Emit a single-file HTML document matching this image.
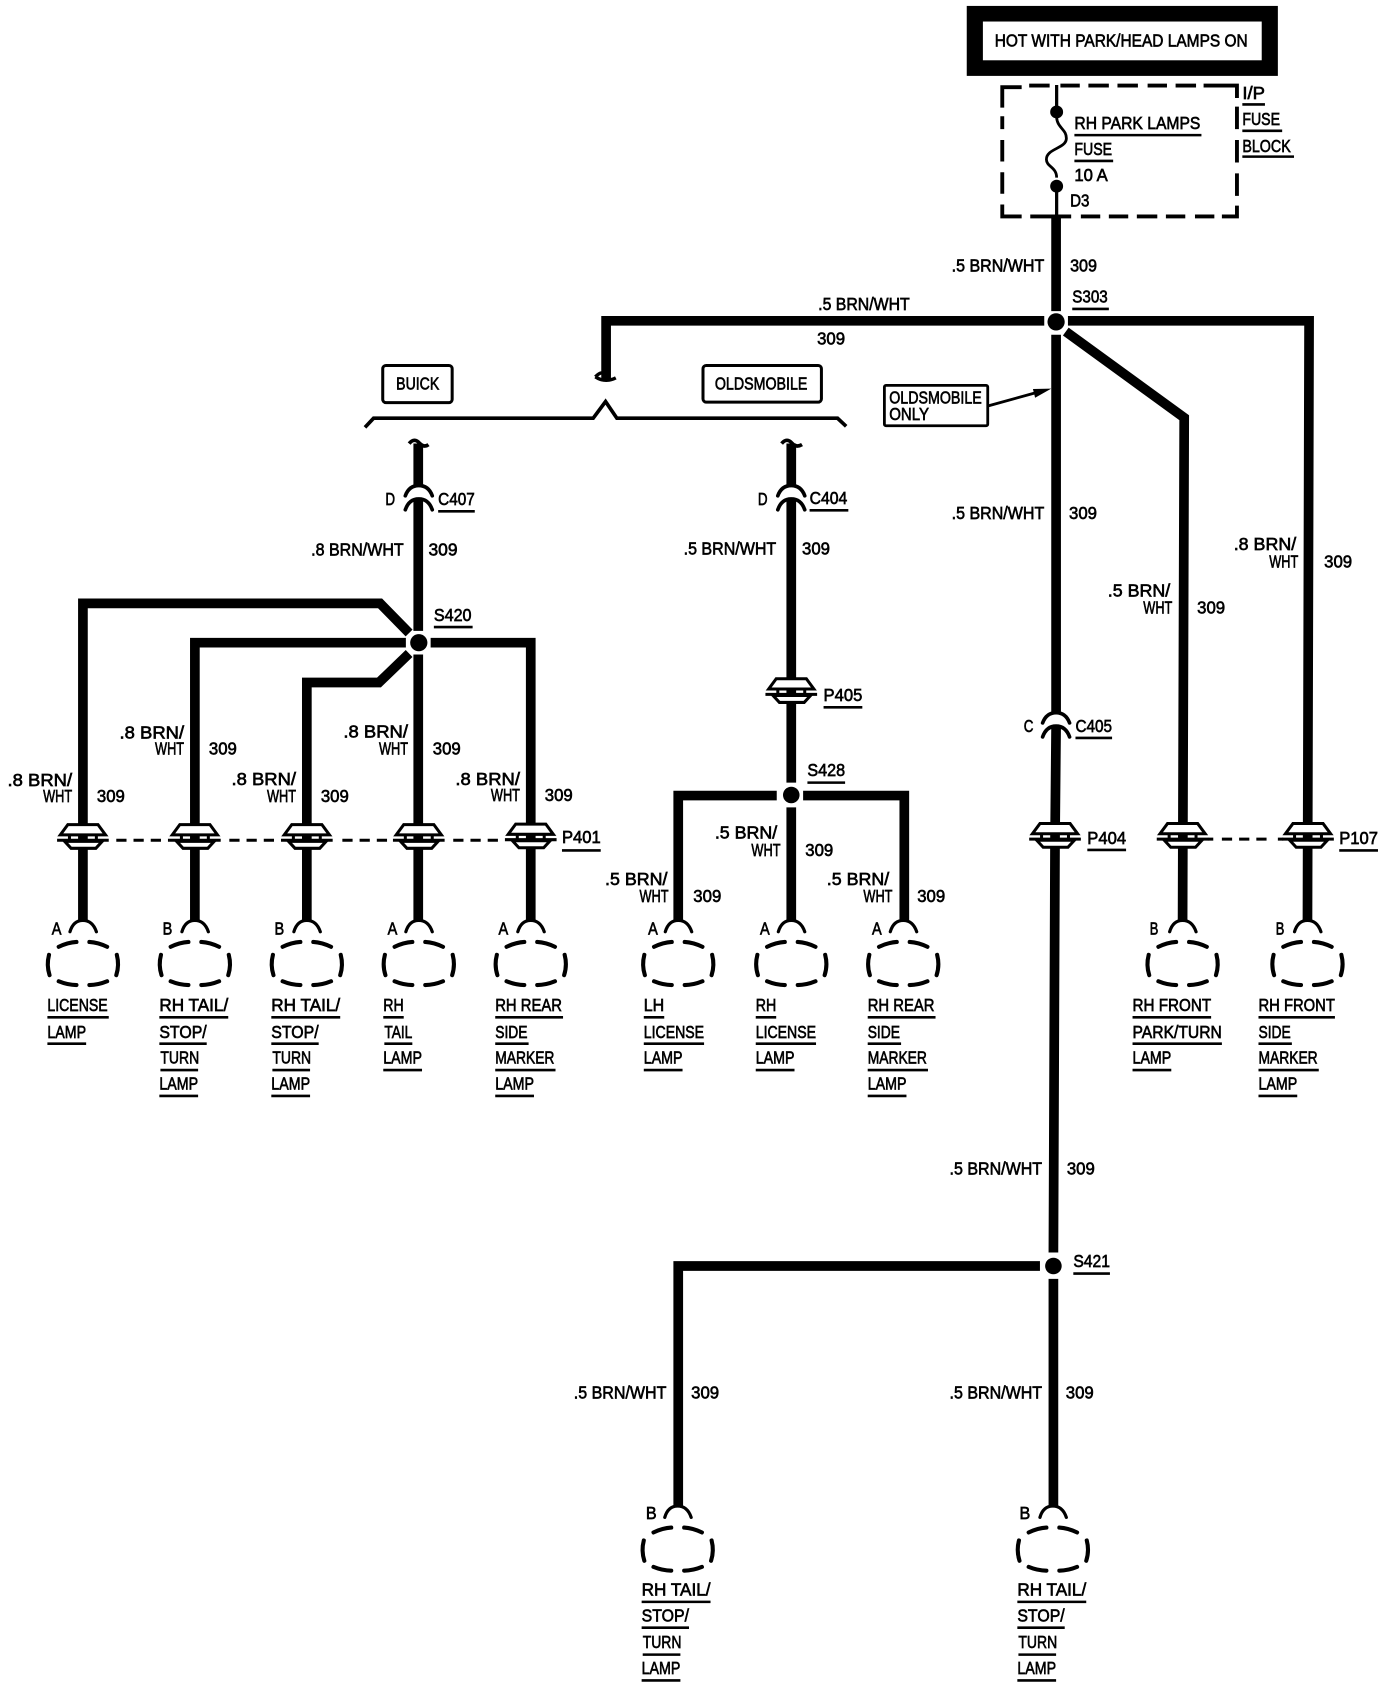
<!DOCTYPE html>
<html>
<head>
<meta charset="utf-8">
<style>
html,body{margin:0;padding:0;background:#fff}
svg{display:block}
text{font-family:"Liberation Sans",Arial,sans-serif;font-size:16.5px;fill:#000;stroke:#000;stroke-width:.6}
.w{fill:none;stroke:#000;stroke-width:9;stroke-linejoin:miter}
.u{fill:none;stroke:#000;stroke-width:2.4}
.d{fill:none;stroke:#000;stroke-width:3.6}
.ds{fill:none;stroke:#000;stroke-width:2.8;stroke-dasharray:9.5 6.5}
</style>
</head>
<body>
<svg width="1392" height="1688" viewBox="0 0 1293 1568" xmlns="http://www.w3.org/2000/svg">
<defs>
<g id="lamp" fill="none" stroke="#000" stroke-linecap="round">
<path d="M-12 -29.500 Q-9 -40 0 -40 Q9 -40 12.500 -29.500" stroke-width="3"/>
<path d="M-22.500 -15.500 Q-14 -19.500 -6 -20 M6 -20 Q14 -19.500 22.500 -15.500 M-22.500 16.500 Q-14 20 -6 20 M6 20 Q14 20 22.500 16.500 M-31.500 -8 Q-34 1.500 -31 10.800 M31.500 -8 Q34 1.500 31 10.800" stroke-width="3.800"/>
</g>
<g id="pass" stroke="#000">
<path d="M-14 -14.500 H14 L21 -5 H-21 Z" fill="#fff" stroke-width="2.800"/>
<path d="M-17 1 L-11 7.500 H12 L18 1 Z" fill="#fff" stroke-width="2.800"/>
<path d="M-12.500 -5 V0 M12.500 -5 V0" fill="none" stroke-width="2.800"/>
<path d="M-24 0 H24" fill="none" stroke-width="2.800"/>
</g>
<g id="conn" fill="none" stroke="#000" stroke-width="3.400" stroke-linecap="round">
<path d="M-12.500 9.500 Q-9 0 0 0 Q9 0 12.500 9.500"/>
<path d="M-12.500 22.500 Q-9 12.500 0 12.500 Q9 12.500 12.500 22.500"/>
</g>
</defs>

<!-- header box -->
<rect x="898" y="5.500" width="289" height="65" fill="#000"/>
<rect x="913" y="20" width="259" height="36" fill="#fff"/>
<text x="924" y="43" textLength="235" lengthAdjust="spacingAndGlyphs">HOT WITH PARK/HEAD LAMPS ON</text>

<!-- fuse block dashed box -->
<path class="d" d="M931 100 V81 H949 M956 79.500 H975 M985 79.500 H1003 M1011 79.500 H1030 M1038 79.500 H1057 M1066 79.500 H1084 M1092 79.500 H1111 M1118 79.500 H1149 V91 M1149 99 V120 M1149 130 V151 M1149 161 V182 M1149 191 V201 H1135 M1128 201 H1110 M1101 201 H1083 M1075 201 H1056 M1048 201 H1030 M1022 201 H1004 M995 201 H957 M949 201 H931 V190 M931 180 V160 M931 150 V130 M931 120 V108"/>
<path d="M981.500 79 V104 M981.500 173 V201" stroke="#000" stroke-width="3" fill="none"/>
<path d="M981.500 109 C982 119 991 120 990.500 129 C990 138 972 138 972 148 C972 155 981.500 155 981.500 165" stroke="#000" stroke-width="2.600" fill="none"/>
<circle cx="981.500" cy="104" r="6"/>
<circle cx="981.500" cy="173" r="6"/>
<text x="998" y="120" textLength="117" lengthAdjust="spacingAndGlyphs">RH PARK LAMPS</text>
<text x="998" y="144" textLength="35" lengthAdjust="spacingAndGlyphs">FUSE</text>
<text x="998" y="168" textLength="31" lengthAdjust="spacingAndGlyphs">10 A</text>
<text x="994" y="192" textLength="18" lengthAdjust="spacingAndGlyphs">D3</text>
<text x="1154" y="92" textLength="21" lengthAdjust="spacingAndGlyphs">I/P</text>
<text x="1154" y="116" textLength="35" lengthAdjust="spacingAndGlyphs">FUSE</text>
<text x="1154" y="141" textLength="45" lengthAdjust="spacingAndGlyphs">BLOCK</text>

<!-- wires -->
<path class="w" d="M981 201 V289"/>
<path class="w" d="M970 298 H563 V352"/>
<path class="w" d="M992 298 H1216 L1214.500 855"/>
<path class="w" d="M990 308 L1100 388 L1098.500 855"/>
<path class="w" d="M981 311 V662"/>
<path class="w" d="M981 675 L980 780 L978.500 1163.500"/>
<path class="w" d="M978.500 1188 V1400"/>
<path class="w" d="M966 1176 H630 V1400"/>
<!-- buick -->
<path class="w" d="M388.500 412 V451"/>
<path class="w" d="M388.500 464 V586"/>
<path class="w" d="M388.500 608 V855"/>
<path class="w" d="M380 588 L353 560.500 H77 V855"/>
<path class="w" d="M377 597 H181 V855"/>
<path class="w" d="M380 607 L352 634 H285 V855"/>
<path class="w" d="M400 597 H493 V855"/>
<!-- olds -->
<path class="w" d="M735 412 V451"/>
<path class="w" d="M735 464 V727"/>
<path class="w" d="M735 750 V855"/>
<path class="w" d="M721.500 739 H630 V855"/>
<path class="w" d="M746 739 H840 V855"/>

<!-- curls -->
<path d="M553 350 Q562 356 572 351 M553 350 Q558 345 560 347" fill="none" stroke="#000" stroke-width="3.200"/>
<path d="M380 412 Q385 406 390 412 Q394 416 398 413" fill="none" stroke="#000" stroke-width="3.400"/>
<path d="M726 412 Q731 406 736 412 Q740 416 745 413" fill="none" stroke="#000" stroke-width="3.400"/>

<!-- bracket -->
<path d="M339 397 L347 388.500 H551 L562.500 373 L573 388.500 H778 L786 396" fill="none" stroke="#000" stroke-width="3.400"/>
<rect x="355.500" y="339.500" width="64.500" height="34.500" rx="3" fill="#fff" stroke="#000" stroke-width="2.800"/>
<rect x="653" y="339.500" width="110" height="34" rx="3" fill="#fff" stroke="#000" stroke-width="2.800"/>
<text x="368" y="362" textLength="40" lengthAdjust="spacingAndGlyphs">BUICK</text>
<text x="664" y="362" textLength="86" lengthAdjust="spacingAndGlyphs">OLDSMOBILE</text>

<!-- oldsmobile only -->
<rect x="821.500" y="358" width="96" height="37.500" rx="1.500" fill="#fff" stroke="#000" stroke-width="2.600"/>
<text x="826" y="375" textLength="86" lengthAdjust="spacingAndGlyphs">OLDSMOBILE</text>
<text x="826" y="390" textLength="37" lengthAdjust="spacingAndGlyphs">ONLY</text>
<path d="M918 377 L965 364" stroke="#000" stroke-width="2.600" fill="none"/>
<path d="M976.500 361 L959.500 361.300 L961.500 369.500 Z" fill="#000"/>

<!-- splices -->
<circle cx="981" cy="299" r="8"/>
<circle cx="389" cy="597" r="8"/>
<circle cx="735" cy="738.500" r="7.700"/>
<circle cx="978.500" cy="1176" r="7.700"/>

<!-- connector C -->
<use href="#conn" x="389" y="451"/>
<use href="#conn" x="735" y="451"/>
<use href="#conn" x="981" y="662"/>

<!-- pass through -->
<path class="ds" d="M108 780.500 H157 M213 780.500 H261 M318 780.500 H365 M421 780.500 H468"/>
<path class="ds" d="M1135 779.500 H1181"/>
<use href="#pass" x="77" y="780.500"/>
<use href="#pass" x="181" y="780.500"/>
<use href="#pass" x="285" y="780.500"/>
<use href="#pass" x="389" y="780.500"/>
<use href="#pass" x="493" y="780"/>
<use href="#pass" x="735" y="645"/>
<use href="#pass" x="980" y="779.500"/>
<use href="#pass" x="1098.500" y="779.500"/>
<use href="#pass" x="1215" y="779.500"/>
<path d="M1122 779.500 H1127 M1187 779.500 H1192" stroke="#000" stroke-width="2.800"/>

<!-- lamps -->
<use href="#lamp" x="77" y="895"/>
<use href="#lamp" x="181" y="895"/>
<use href="#lamp" x="285" y="895"/>
<use href="#lamp" x="389" y="895"/>
<use href="#lamp" x="493" y="895"/>
<use href="#lamp" x="630" y="895"/>
<use href="#lamp" x="735" y="895"/>
<use href="#lamp" x="839" y="895"/>
<use href="#lamp" x="1098.500" y="895"/>
<use href="#lamp" x="1214.500" y="895"/>
<use href="#lamp" x="629.500" y="1439"/>
<use href="#lamp" x="978" y="1439"/>

<!-- underlines -->
<path class="u" d="M1154 97h21 M1154 121.500h37 M1154 145.500h48 M998 125.500h118 M998 149.500h36
M996 287h34 M407 475h34 M403 582.500h36 M752 474h36 M765 657h36 M750 727h35 M999 685.500h34
M522 790h36 M1010 789.500h36 M1244 790h36 M997 1183h34
M44 945h57 M44 969.500h36
M148 945h64 M148 969.500h44 M149 994h35 M148 1018h36
M252 945h64 M252 969.500h44 M253 994h35 M252 1018h36
M356 945h19 M357 969.500h26 M356 994h36
M460 945h63 M460 969.500h31 M460 994h56 M460 1018h36
M598 945h19 M598 969.500h56 M598 994h36
M702 945h19 M702 969.500h56 M702 994h36
M806 945h63 M806 969.500h31 M806 994h56 M806 1018h36
M1052 945h73 M1052 969.500h83 M1052 994h36
M1169 945h71 M1169 969.500h31 M1169 994h56 M1169 1018h36
M596 1488h64 M596 1512h44 M597 1537h35 M596 1561h36
M945 1488h64 M945 1512h44 M946 1537h35 M945 1561h36"/>

<!-- top wire labels -->
<text x="884" y="252" textLength="86" lengthAdjust="spacingAndGlyphs">.5 BRN/WHT</text>
<text x="994" y="252" textLength="25" lengthAdjust="spacingAndGlyphs">309</text>
<text x="996" y="281" textLength="33" lengthAdjust="spacingAndGlyphs">S303</text>
<text x="760" y="288" textLength="85" lengthAdjust="spacingAndGlyphs">.5 BRN/WHT</text>
<text x="759" y="320" textLength="26" lengthAdjust="spacingAndGlyphs">309</text>

<!-- Buick labels -->
<text x="358" y="469" textLength="9" lengthAdjust="spacingAndGlyphs">D</text>
<text x="407" y="469" textLength="34" lengthAdjust="spacingAndGlyphs">C407</text>
<text x="289" y="516" textLength="86" lengthAdjust="spacingAndGlyphs">.8 BRN/WHT</text>
<text x="398" y="516" textLength="27" lengthAdjust="spacingAndGlyphs">309</text>
<text x="403" y="577" textLength="35" lengthAdjust="spacingAndGlyphs">S420</text>

<text x="7" y="730" textLength="60" lengthAdjust="spacingAndGlyphs">.8 BRN/</text>
<text x="40" y="745" textLength="27" lengthAdjust="spacingAndGlyphs">WHT</text>
<text x="90" y="745" textLength="26" lengthAdjust="spacingAndGlyphs">309</text>
<text x="111" y="686" textLength="60" lengthAdjust="spacingAndGlyphs">.8 BRN/</text>
<text x="144" y="701" textLength="27" lengthAdjust="spacingAndGlyphs">WHT</text>
<text x="194" y="701" textLength="26" lengthAdjust="spacingAndGlyphs">309</text>
<text x="215" y="729" textLength="60" lengthAdjust="spacingAndGlyphs">.8 BRN/</text>
<text x="248" y="745" textLength="27" lengthAdjust="spacingAndGlyphs">WHT</text>
<text x="298" y="745" textLength="26" lengthAdjust="spacingAndGlyphs">309</text>
<text x="319" y="685" textLength="60" lengthAdjust="spacingAndGlyphs">.8 BRN/</text>
<text x="352" y="701" textLength="27" lengthAdjust="spacingAndGlyphs">WHT</text>
<text x="402" y="701" textLength="26" lengthAdjust="spacingAndGlyphs">309</text>
<text x="423" y="729" textLength="60" lengthAdjust="spacingAndGlyphs">.8 BRN/</text>
<text x="456" y="744" textLength="27" lengthAdjust="spacingAndGlyphs">WHT</text>
<text x="506" y="744" textLength="26" lengthAdjust="spacingAndGlyphs">309</text>
<text x="522" y="783" textLength="36" lengthAdjust="spacingAndGlyphs">P401</text>

<text x="48" y="868" textLength="9" lengthAdjust="spacingAndGlyphs">A</text>
<text x="151" y="868" textLength="9" lengthAdjust="spacingAndGlyphs">B</text>
<text x="255" y="868" textLength="9" lengthAdjust="spacingAndGlyphs">B</text>
<text x="360" y="868" textLength="9" lengthAdjust="spacingAndGlyphs">A</text>
<text x="463" y="868" textLength="9" lengthAdjust="spacingAndGlyphs">A</text>

<text x="44" y="939" textLength="56" lengthAdjust="spacingAndGlyphs">LICENSE</text>
<text x="44" y="964" textLength="36" lengthAdjust="spacingAndGlyphs">LAMP</text>

<text x="148" y="939" textLength="64" lengthAdjust="spacingAndGlyphs">RH TAIL/</text>
<text x="148" y="964" textLength="44" lengthAdjust="spacingAndGlyphs">STOP/</text>
<text x="149" y="988" textLength="36" lengthAdjust="spacingAndGlyphs">TURN</text>
<text x="148" y="1012" textLength="36" lengthAdjust="spacingAndGlyphs">LAMP</text>

<text x="252" y="939" textLength="64" lengthAdjust="spacingAndGlyphs">RH TAIL/</text>
<text x="252" y="964" textLength="44" lengthAdjust="spacingAndGlyphs">STOP/</text>
<text x="253" y="988" textLength="36" lengthAdjust="spacingAndGlyphs">TURN</text>
<text x="252" y="1012" textLength="36" lengthAdjust="spacingAndGlyphs">LAMP</text>

<text x="356" y="939" textLength="19" lengthAdjust="spacingAndGlyphs">RH</text>
<text x="357" y="964" textLength="26" lengthAdjust="spacingAndGlyphs">TAIL</text>
<text x="356" y="988" textLength="36" lengthAdjust="spacingAndGlyphs">LAMP</text>

<text x="460" y="939" textLength="62" lengthAdjust="spacingAndGlyphs">RH REAR</text>
<text x="460" y="964" textLength="30" lengthAdjust="spacingAndGlyphs">SIDE</text>
<text x="460" y="988" textLength="55" lengthAdjust="spacingAndGlyphs">MARKER</text>
<text x="460" y="1012" textLength="36" lengthAdjust="spacingAndGlyphs">LAMP</text>

<!-- Olds labels -->
<text x="704" y="469" textLength="9" lengthAdjust="spacingAndGlyphs">D</text>
<text x="752" y="468" textLength="35" lengthAdjust="spacingAndGlyphs">C404</text>
<text x="635" y="515" textLength="86" lengthAdjust="spacingAndGlyphs">.5 BRN/WHT</text>
<text x="745" y="515" textLength="26" lengthAdjust="spacingAndGlyphs">309</text>
<text x="765" y="651" textLength="36" lengthAdjust="spacingAndGlyphs">P405</text>
<text x="750" y="721" textLength="35" lengthAdjust="spacingAndGlyphs">S428</text>

<text x="562" y="822" textLength="58" lengthAdjust="spacingAndGlyphs">.5 BRN/</text>
<text x="594" y="838" textLength="27" lengthAdjust="spacingAndGlyphs">WHT</text>
<text x="644" y="838" textLength="26" lengthAdjust="spacingAndGlyphs">309</text>
<text x="664" y="779" textLength="58" lengthAdjust="spacingAndGlyphs">.5 BRN/</text>
<text x="698" y="795" textLength="27" lengthAdjust="spacingAndGlyphs">WHT</text>
<text x="748" y="795" textLength="26" lengthAdjust="spacingAndGlyphs">309</text>
<text x="768" y="822" textLength="58" lengthAdjust="spacingAndGlyphs">.5 BRN/</text>
<text x="802" y="838" textLength="27" lengthAdjust="spacingAndGlyphs">WHT</text>
<text x="852" y="838" textLength="26" lengthAdjust="spacingAndGlyphs">309</text>

<text x="602" y="868" textLength="9" lengthAdjust="spacingAndGlyphs">A</text>
<text x="706" y="868" textLength="9" lengthAdjust="spacingAndGlyphs">A</text>
<text x="810" y="868" textLength="9" lengthAdjust="spacingAndGlyphs">A</text>

<text x="598" y="939" textLength="19" lengthAdjust="spacingAndGlyphs">LH</text>
<text x="598" y="964" textLength="56" lengthAdjust="spacingAndGlyphs">LICENSE</text>
<text x="598" y="988" textLength="36" lengthAdjust="spacingAndGlyphs">LAMP</text>
<text x="702" y="939" textLength="19" lengthAdjust="spacingAndGlyphs">RH</text>
<text x="702" y="964" textLength="56" lengthAdjust="spacingAndGlyphs">LICENSE</text>
<text x="702" y="988" textLength="36" lengthAdjust="spacingAndGlyphs">LAMP</text>
<text x="806" y="939" textLength="62" lengthAdjust="spacingAndGlyphs">RH REAR</text>
<text x="806" y="964" textLength="30" lengthAdjust="spacingAndGlyphs">SIDE</text>
<text x="806" y="988" textLength="55" lengthAdjust="spacingAndGlyphs">MARKER</text>
<text x="806" y="1012" textLength="36" lengthAdjust="spacingAndGlyphs">LAMP</text>

<!-- right labels -->
<text x="884" y="482" textLength="86" lengthAdjust="spacingAndGlyphs">.5 BRN/WHT</text>
<text x="993" y="482" textLength="26" lengthAdjust="spacingAndGlyphs">309</text>
<text x="951" y="680" textLength="9" lengthAdjust="spacingAndGlyphs">C</text>
<text x="999" y="680" textLength="34" lengthAdjust="spacingAndGlyphs">C405</text>
<text x="1010" y="784" textLength="36" lengthAdjust="spacingAndGlyphs">P404</text>
<text x="1029" y="554" textLength="58" lengthAdjust="spacingAndGlyphs">.5 BRN/</text>
<text x="1062" y="570" textLength="27" lengthAdjust="spacingAndGlyphs">WHT</text>
<text x="1112" y="570" textLength="26" lengthAdjust="spacingAndGlyphs">309</text>
<text x="1146" y="511" textLength="58" lengthAdjust="spacingAndGlyphs">.8 BRN/</text>
<text x="1179" y="527" textLength="27" lengthAdjust="spacingAndGlyphs">WHT</text>
<text x="1230" y="527" textLength="26" lengthAdjust="spacingAndGlyphs">309</text>
<text x="1244" y="784" textLength="36" lengthAdjust="spacingAndGlyphs">P107</text>
<text x="1068" y="868" textLength="8" lengthAdjust="spacingAndGlyphs">B</text>
<text x="1185" y="868" textLength="8" lengthAdjust="spacingAndGlyphs">B</text>
<text x="1052" y="939" textLength="73" lengthAdjust="spacingAndGlyphs">RH FRONT</text>
<text x="1052" y="964" textLength="83" lengthAdjust="spacingAndGlyphs">PARK/TURN</text>
<text x="1052" y="988" textLength="36" lengthAdjust="spacingAndGlyphs">LAMP</text>
<text x="1169" y="939" textLength="71" lengthAdjust="spacingAndGlyphs">RH FRONT</text>
<text x="1169" y="964" textLength="30" lengthAdjust="spacingAndGlyphs">SIDE</text>
<text x="1169" y="988" textLength="55" lengthAdjust="spacingAndGlyphs">MARKER</text>
<text x="1169" y="1012" textLength="36" lengthAdjust="spacingAndGlyphs">LAMP</text>

<!-- lower labels -->
<text x="882" y="1091" textLength="86" lengthAdjust="spacingAndGlyphs">.5 BRN/WHT</text>
<text x="991" y="1091" textLength="26" lengthAdjust="spacingAndGlyphs">309</text>
<text x="997" y="1177" textLength="34" lengthAdjust="spacingAndGlyphs">S421</text>
<text x="533" y="1299" textLength="86" lengthAdjust="spacingAndGlyphs">.5 BRN/WHT</text>
<text x="642" y="1299" textLength="26" lengthAdjust="spacingAndGlyphs">309</text>
<text x="882" y="1299" textLength="86" lengthAdjust="spacingAndGlyphs">.5 BRN/WHT</text>
<text x="990" y="1299" textLength="26" lengthAdjust="spacingAndGlyphs">309</text>
<text x="600" y="1411" textLength="10" lengthAdjust="spacingAndGlyphs">B</text>
<text x="947" y="1411" textLength="10" lengthAdjust="spacingAndGlyphs">B</text>

<text x="596" y="1482" textLength="64" lengthAdjust="spacingAndGlyphs">RH TAIL/</text>
<text x="596" y="1506" textLength="44" lengthAdjust="spacingAndGlyphs">STOP/</text>
<text x="597" y="1531" textLength="36" lengthAdjust="spacingAndGlyphs">TURN</text>
<text x="596" y="1555" textLength="36" lengthAdjust="spacingAndGlyphs">LAMP</text>
<text x="945" y="1482" textLength="64" lengthAdjust="spacingAndGlyphs">RH TAIL/</text>
<text x="945" y="1506" textLength="44" lengthAdjust="spacingAndGlyphs">STOP/</text>
<text x="946" y="1531" textLength="36" lengthAdjust="spacingAndGlyphs">TURN</text>
<text x="945" y="1555" textLength="36" lengthAdjust="spacingAndGlyphs">LAMP</text>
</svg>
</body>
</html>
